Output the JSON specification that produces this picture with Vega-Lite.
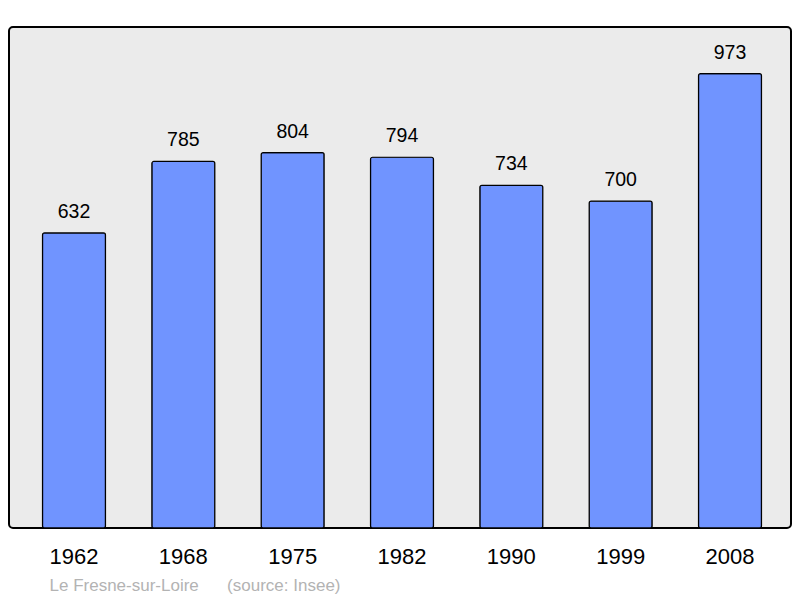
{
  "$schema": "https://vega.github.io/schema/vega-lite/v6.json",
  "autosize": {"type": "none"},
  "width": 782,
  "height": 501,
  "padding": {"left": 9, "top": 27, "right": 9, "bottom": 70},
  "background": "white",
  "config": {
    "font": "Liberation Sans",
    "view": {"fill": "#ebebeb", "stroke": "#000000", "strokeWidth": 2, "cornerRadius": 4}
  },
  "data": {
    "values": [
      {"year": "1962", "pop": 632},
      {"year": "1968", "pop": 785},
      {"year": "1975", "pop": 804},
      {"year": "1982", "pop": 794},
      {"year": "1990", "pop": 734},
      {"year": "1999", "pop": 700},
      {"year": "2008", "pop": 973}
    ]
  },
  "encoding": {
    "x": {
      "field": "year",
      "type": "ordinal",
      "scale": {"range": [10, 776], "paddingInner": 0.424, "paddingOuter": 0.215},
      "axis": {
        "title": "Le Fresne-sur-Loire\u00a0\u00a0\u00a0\u00a0\u00a0\u00a0(source: Insee)",
        "titleX": 40,
        "titleY": 62,
        "titleAlign": "left",
        "titleAnchor": "start",
        "titleBaseline": "alphabetic",
        "titleFontSize": 17,
        "titleFontWeight": "normal",
        "titleColor": "#b3b3b3",
        "titleFont": "Liberation Sans",
        "labelAngle": 0,
        "labelFontSize": 22,
        "labelColor": "#000000",
        "labelBaseline": "alphabetic",
        "labelPadding": 35,
        "labelFont": "Liberation Sans",
        "domain": false,
        "ticks": false,
        "grid": false
      }
    },
    "y": {
      "field": "pop",
      "type": "quantitative",
      "scale": {"domain": [0, 1073], "nice": false, "zero": true},
      "axis": null
    }
  },
  "layer": [
    {
      "mark": {"type": "bar", "fill": "#7094ff", "stroke": "#000000", "strokeWidth": 1.2, "cornerRadius": 2}
    },
    {
      "mark": {"type": "text", "baseline": "alphabetic", "dy": -15, "fontSize": 19.5, "color": "#000000", "font": "Liberation Sans"},
      "encoding": {"text": {"field": "pop", "type": "quantitative"}}
    }
  ]
}
